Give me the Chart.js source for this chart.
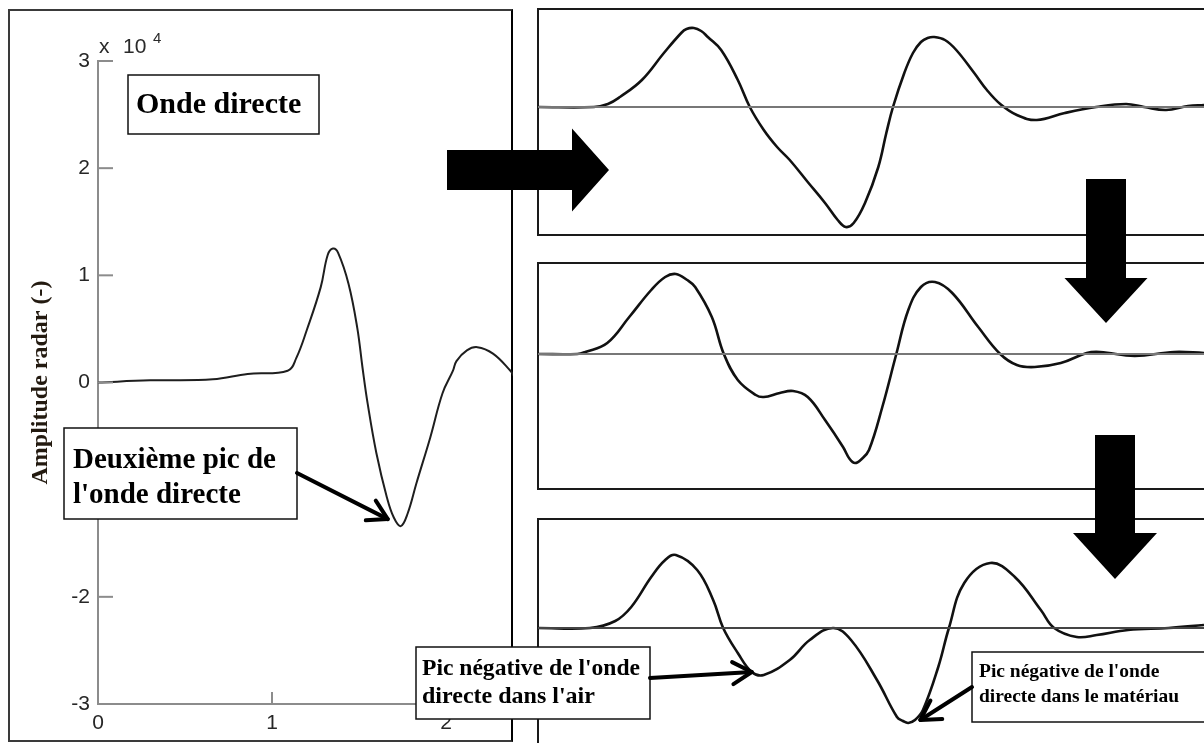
<!DOCTYPE html>
<html>
<head>
<meta charset="utf-8">
<script src="https://cdn.jsdelivr.net/npm/chart.js@4.4.1/dist/chart.umd.min.js"></script>
<style>
    html, body { margin: 0; padding: 0; background: #fff; }
    #stage { position: relative; width: 1204px; height: 743px; overflow: hidden; }
    .frame { position: absolute; box-sizing: border-box; }
    .holder { position: absolute; }
</style>
</head>
<body>
<div id="stage">
    <div class="frame" style="left:8px;top:9px;width:505px;height:733px;border:2px solid #3a3a3a;border-right-color:#000;"></div>
    <div class="frame" style="left:537px;top:8px;width:690px;height:228px;border:2px solid #1a1a1a;"></div>
    <div class="frame" style="left:537px;top:262px;width:690px;height:228px;border:2px solid #1a1a1a;"></div>
    <div class="frame" style="left:537px;top:518px;width:690px;height:240px;border:2px solid #1a1a1a;"></div>

    <div class="holder" style="left:0;top:0;width:520px;height:743px;"><canvas id="cMain"></canvas></div>
    <div class="holder" style="left:538px;top:9px;width:666px;height:226px;"><canvas id="cP1"></canvas></div>
    <div class="holder" style="left:538px;top:263px;width:666px;height:226px;"><canvas id="cP2"></canvas></div>
    <div class="holder" style="left:538px;top:519px;width:666px;height:224px;"><canvas id="cP3"></canvas></div>

    <canvas id="overlay" width="1204" height="743" style="position:absolute;left:0;top:0;"></canvas>
</div>

<script>
/* ============================================
   Onde directe — trace radar + trois variantes
   ============================================ */

/** Trace principale (amplitude en x10^4) */
const mainTime = [0, 0.3, 0.66, 0.86, 1.09, 1.14, 1.2, 1.28, 1.32, 1.35, 1.38, 1.44, 1.49, 1.52, 1.55,
                  1.6, 1.66, 1.7, 1.74, 1.78, 1.83, 1.91, 1.98, 2.04, 2.06, 2.12, 2.18, 2.27, 2.37, 2.39];
const mainAmp  = [0, 0.02, 0.03, 0.08, 0.11, 0.23, 0.49, 0.89, 1.19, 1.25, 1.21, 0.92, 0.51, 0.14, -0.2,
                  -0.66, -1.07, -1.26, -1.34, -1.22, -0.94, -0.51, -0.1, 0.11, 0.2, 0.3, 0.33, 0.27, 0.11, 0.06];
const xTickValues = [0, 1, 2];
const yTickValues = [-3, -2, -1, 0, 1, 2, 3];

/** Panneau 1 */
const p1Time = [0, 0.84, 1.05, 1.23, 1.56, 1.89, 2.15, 2.23, 2.34, 2.45, 2.55, 2.75, 3.0, 3.18, 3.39, 3.59,
                3.78, 4.05, 4.31, 4.5, 4.62, 4.74, 4.91, 5.11, 5.23, 5.33, 5.5, 5.63, 5.75, 5.85, 5.95,
                6.11, 6.28, 6.55, 6.74, 6.94, 7.19, 7.49, 7.91, 8.38, 8.83, 9.1, 9.43, 9.76, 10];
const p1Amp  = [0, 0, 0.03, 0.1, 0.27, 0.54, 0.74, 0.78, 0.79, 0.76, 0.7, 0.57, 0.27, 0, -0.23, -0.4,
                -0.53, -0.75, -0.96, -1.13, -1.2, -1.16, -0.96, -0.6, -0.26, 0, 0.34, 0.54, 0.65, 0.69, 0.7,
                0.67, 0.57, 0.34, 0.17, 0.03, -0.08, -0.13, -0.06, 0, 0.03, 0, -0.03, 0.01, 0.02];

/** Panneau 2 */
const p2Time = [0, 0.59, 0.71, 1.04, 1.37, 1.7, 1.91, 2.07, 2.24, 2.36, 2.61, 2.79, 3.0, 3.27, 3.39, 3.63,
                3.83, 4.05, 4.31, 4.58, 4.68, 4.76, 4.86, 4.97, 5.17, 5.38, 5.56, 5.75, 5.96, 6.22, 6.61,
                6.94, 7.19, 7.46, 7.85, 8.24, 8.44, 8.96, 9.55, 10];
const p2Amp  = [0, 0, 0.02, 0.11, 0.37, 0.64, 0.77, 0.8, 0.74, 0.67, 0.37, 0, -0.26, -0.41, -0.43, -0.39,
                -0.37, -0.43, -0.66, -0.93, -1.05, -1.09, -1.05, -0.96, -0.53, 0, 0.44, 0.67, 0.72, 0.61, 0.27,
                0, -0.11, -0.13, -0.09, 0.01, 0.02, -0.02, 0.02, 0.01];

/** Panneau 3 */
const p3Time = [0, 0.78, 1.16, 1.4, 1.7, 1.91, 2.07, 2.39, 2.63, 2.78, 3.0, 3.21, 3.39, 3.78, 4.08, 4.43,
                4.7, 5.09, 5.39, 5.48, 5.56, 5.66, 5.78, 6.01, 6.17, 6.4, 6.79, 7.16, 7.55, 7.75, 8.09,
                8.39, 8.86, 9.47, 10];
const p3Amp  = [0, 0, 0.07, 0.21, 0.51, 0.68, 0.73, 0.58, 0.28, 0, -0.25, -0.44, -0.47, -0.32, -0.12, 0,
                -0.12, -0.52, -0.89, -0.93, -0.95, -0.92, -0.82, -0.39, 0, 0.45, 0.65, 0.51, 0.18, 0, -0.09,
                -0.07, -0.02, 0, 0.03];

/** Ligne de base des panneaux */
const baseTime = [0, 10];
const baseAmp  = [0, 0];

const toPoints = (xs, ys) => xs.map((x, i) => ({ x, y: ys[i] }));

/** Graduations intérieures (style MATLAB) */
const innerTicks = {
    id: 'innerTicks',
    afterDraw(chart) {
        const { ctx, chartArea: a, scales: { x, y } } = chart;
        ctx.save();
        ctx.strokeStyle = '#8c8c8c';
        ctx.lineWidth = 2;
        y.ticks.forEach(t => {
            const p = y.getPixelForValue(t.value);
            ctx.beginPath(); ctx.moveTo(a.left, p); ctx.lineTo(a.left + 15, p); ctx.stroke();
        });
        x.ticks.forEach(t => {
            const p = x.getPixelForValue(t.value);
            ctx.beginPath(); ctx.moveTo(p, a.bottom); ctx.lineTo(p, a.bottom - 12); ctx.stroke();
        });
        ctx.restore();
    }
};

/** Facteur d'échelle « x 10^4 » */
const expLabel = {
    id: 'expLabel',
    afterDraw(chart) {
        const { ctx, chartArea: a } = chart;
        ctx.save();
        ctx.fillStyle = '#2a2a2a';
        ctx.textBaseline = 'alphabetic';
        ctx.font = '21px "Liberation Sans", Arial, sans-serif';
        ctx.fillText('x', a.left + 1, a.top - 8);
        ctx.fillText('10', a.left + 25, a.top - 8);
        ctx.font = '15px "Liberation Sans", Arial, sans-serif';
        ctx.fillText('4', a.left + 55, a.top - 18);
        ctx.restore();
    }
};

const tickFont = { family: '"Liberation Sans", Arial, sans-serif', size: 21 };

const mainChart = new Chart(document.getElementById('cMain').getContext('2d'), {
    type: 'line',
    data: {
        datasets: [{
            data: toPoints(mainTime, mainAmp),
            borderColor: '#1e1e1e',
            borderWidth: 2,
            pointRadius: 0,
            tension: 0.4,
            fill: false
        }]
    },
    options: {
        responsive: true,
        maintainAspectRatio: false,
        animation: false,
        layout: { padding: { top: 61, right: 7, bottom: 0, left: 0 } },
        plugins: { legend: { display: false }, tooltip: { enabled: false } },
        scales: {
            x: {
                type: 'linear',
                min: 0,
                max: 2.385,
                afterFit(s) { s.height = 39; },
                afterBuildTicks(s) { s.ticks = xTickValues.map(v => ({ value: v })); },
                grid: { display: false, drawTicks: false },
                border: { display: true, color: '#8c8c8c', width: 2 },
                ticks: { padding: 7, color: '#262626', font: tickFont, maxRotation: 0 }
            },
            y: {
                min: -3,
                max: 3,
                afterFit(s) { s.width = 98; },
                afterBuildTicks(s) { s.ticks = yTickValues.map(v => ({ value: v })); },
                grid: { display: false, drawTicks: false },
                border: { display: true, color: '#8c8c8c', width: 2 },
                ticks: { padding: 8, color: '#262626', font: tickFont },
                title: {
                    display: true,
                    text: 'Amplitude radar (-)',
                    color: '#231a10',
                    font: { family: '"Liberation Serif", "Times New Roman", serif', size: 24, weight: 'bold' },
                    padding: { top: 26, bottom: 0 }
                }
            }
        }
    },
    plugins: [innerTicks, expLabel]
});

/** Panneau sans axes */
function createPanel(id, times, amps, yMin, yMax, baseColor) {
    return new Chart(document.getElementById(id).getContext('2d'), {
        type: 'line',
        data: {
            datasets: [{
                data: toPoints(baseTime, baseAmp),
                borderColor: baseColor,
                borderWidth: 2,
                pointRadius: 0
            }, {
                data: toPoints(times, amps),
                borderColor: '#111',
                borderWidth: 2.6,
                pointRadius: 0,
                tension: 0.4,
                fill: false
            }]
        },
        options: {
            responsive: true,
            maintainAspectRatio: false,
            animation: false,
            layout: { padding: 0 },
            plugins: { legend: { display: false }, tooltip: { enabled: false } },
            scales: {
                x: { type: 'linear', min: 0, max: 10, display: false },
                y: { min: yMin, max: yMax, display: false }
            }
        }
    });
}

const panel1 = createPanel('cP1', p1Time, p1Amp, -1.28, 0.98, '#777');
const panel2 = createPanel('cP2', p2Time, p2Amp, -1.35, 0.91, '#777');
const panel3 = createPanel('cP3', p3Time, p3Amp, -1.15, 1.09, '#444');

/* ---------- annotations (flèches, cadres) ---------- */
const ov = document.getElementById('overlay').getContext('2d');

/** position page d'un point de données */
function pagePoint(chart, x, y) {
    const r = chart.canvas.getBoundingClientRect();
    const s = document.getElementById('stage').getBoundingClientRect();
    return {
        x: r.left - s.left + chart.scales.x.getPixelForValue(x),
        y: r.top - s.top + chart.scales.y.getPixelForValue(y)
    };
}

function bigArrowRight(x0, x1, xt, yc, hs, hh) {
    ov.beginPath();
    ov.moveTo(x0, yc - hs); ov.lineTo(x1, yc - hs); ov.lineTo(x1, yc - hh); ov.lineTo(xt, yc);
    ov.lineTo(x1, yc + hh); ov.lineTo(x1, yc + hs); ov.lineTo(x0, yc + hs);
    ov.closePath(); ov.fill();
}

function bigArrowDown(xc, y0, y1, yt, hs, hh) {
    ov.beginPath();
    ov.moveTo(xc - hs, y0); ov.lineTo(xc - hs, y1); ov.lineTo(xc - hh, y1); ov.lineTo(xc, yt);
    ov.lineTo(xc + hh, y1); ov.lineTo(xc + hs, y1); ov.lineTo(xc + hs, y0);
    ov.closePath(); ov.fill();
}

function thinArrow(x0, y0, tip) {
    const ang = Math.atan2(tip.y - y0, tip.x - x0);
    const len = 22, spread = Math.PI / 6;
    ov.save();
    ov.strokeStyle = '#000';
    ov.lineWidth = 4;
    ov.lineCap = 'round';
    ov.lineJoin = 'round';
    ov.beginPath(); ov.moveTo(x0, y0); ov.lineTo(tip.x, tip.y); ov.stroke();
    ov.beginPath();
    ov.moveTo(tip.x - len * Math.cos(ang - spread), tip.y - len * Math.sin(ang - spread));
    ov.lineTo(tip.x, tip.y);
    ov.lineTo(tip.x - len * Math.cos(ang + spread), tip.y - len * Math.sin(ang + spread));
    ov.stroke();
    ov.restore();
}

function noteBox(x, y, w, h, lines, size, lx, baselines, maxW) {
    ov.save();
    ov.fillStyle = '#fff';
    ov.fillRect(x, y, w, h);
    ov.strokeStyle = '#111';
    ov.lineWidth = 1.5;
    ov.strokeRect(x, y, w, h);
    ov.fillStyle = '#000';
    ov.font = 'bold ' + size + 'px "Liberation Serif", "Times New Roman", serif';
    ov.textBaseline = 'alphabetic';
    lines.forEach((t, i) => ov.fillText(t, lx, baselines[i], maxW));
    ov.restore();
}

ov.fillStyle = '#000';
bigArrowRight(447, 572, 609, 170, 20, 41.5);
bigArrowDown(1106, 179, 278, 323, 20, 41.5);
bigArrowDown(1115, 435, 533, 579, 20, 42);

noteBox(128, 75, 191, 59, ['Onde directe'], 30, 136, [113], 166);
noteBox(64, 428, 233, 91, ['Deuxième pic de', "l'onde directe"], 29, 73, [468, 503], 206);
noteBox(416, 647, 234, 72, ["Pic négative de l'onde", "directe dans l'air"], 24, 422, [675, 703], 218);
noteBox(972, 652, 240, 70, ["Pic négative de l'onde", 'directe dans le matériau'], 19.5, 979, [677, 702], 200);

const mainMin = pagePoint(mainChart, 1.74, -1.34);
thinArrow(297, 473, { x: mainMin.x - 13, y: mainMin.y - 7 });
const airMin = pagePoint(panel3, 3.39, -0.47);
thinArrow(650, 678, { x: airMin.x - 12, y: airMin.y - 3 });
const matMin = pagePoint(panel3, 5.56, -0.95);
thinArrow(972, 687, { x: matMin.x + 12, y: matMin.y - 3 });
</script>
</body>
</html>
